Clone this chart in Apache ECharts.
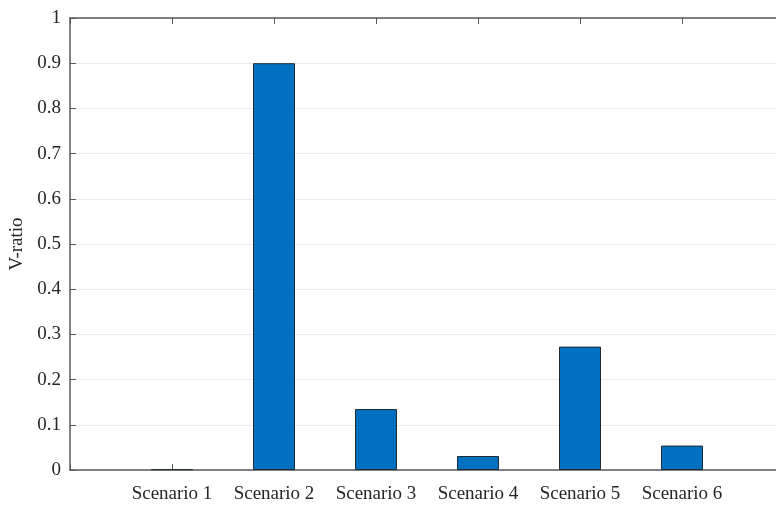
<!DOCTYPE html>
<html>
<head>
<meta charset="utf-8">
<script src="https://cdn.jsdelivr.net/npm/echarts@6/dist/echarts.min.js"></script>
<style>html,body{margin:0;padding:0;background:#fff}#c{width:776px;height:505px}</style>
</head>
<body>
<div id="c"></div>
<script>
const categories = ["Scenario 1", "Scenario 2", "Scenario 3", "Scenario 4", "Scenario 5", "Scenario 6"];
const positions = [1, 2, 3, 4, 5, 6];
const values = [0.002, 0.90, 0.135, 0.031, 0.273, 0.054];
const yTicks = [0, 0.1, 0.2, 0.3, 0.4, 0.5, 0.6, 0.7, 0.8, 0.9, 1];

const font = "'Liberation Serif', 'Times New Roman', serif";
const axisColor = '#5a5a5a';
const textColor = '#262626';

const chart = echarts.init(document.getElementById('c'), null, {renderer: 'canvas'});
chart.setOption({
  animation: false,
  backgroundColor: '#fff',
  grid: {left: 70, top: 18, width: 714, height: 452, containLabel: false, outerBoundsMode: 'none'},
  xAxis: [{
    type: 'value', min: 0, max: 7, interval: 1, position: 'bottom',
    axisLine: {show: true, lineStyle: {color: axisColor, width: 1.5}},
    axisTick: {show: true, inside: true, length: 6, lineStyle: {color: axisColor}},
    splitLine: {show: false},
    axisLabel: {
      show: true, margin: 15, fontFamily: font, fontSize: 19, color: textColor,
      formatter: function (v) { const i = positions.indexOf(v); return i >= 0 ? categories[i] : ''; }
    }
  }, {
    type: 'value', min: 0, max: 7, interval: 1, position: 'top',
    axisLine: {show: true, lineStyle: {color: axisColor, width: 1.5}},
    axisTick: {show: true, inside: true, length: 6, lineStyle: {color: axisColor}},
    splitLine: {show: false},
    axisLabel: {show: false}
  }],
  yAxis: [{
    type: 'value', min: 0, max: 1, interval: 0.1,
    name: 'V-ratio', nameLocation: 'middle', nameGap: 42, nameRotate: 90,
    nameTextStyle: {fontFamily: font, fontSize: 19, color: textColor},
    axisLine: {show: true, lineStyle: {color: axisColor, width: 1.5}},
    axisTick: {show: true, inside: true, length: 6, lineStyle: {color: axisColor}},
    splitLine: {show: true, lineStyle: {color: '#ebebeb', width: 1}},
    axisLabel: {
      margin: 9, fontFamily: font, fontSize: 19, color: textColor,
      formatter: function (v) { const t = yTicks.find(x => Math.abs(x - v) < 1e-9); return t === undefined ? '' : String(t); }
    }
  }],
  series: [{
    type: 'bar',
    xAxisIndex: 0, yAxisIndex: 0,
    barWidth: 42,
    data: positions.map((p, i) => [p, values[i]]),
    itemStyle: {color: '#0070C0', borderColor: '#1f2a33', borderWidth: 1}
  }]
});
</script>
</body>
</html>
